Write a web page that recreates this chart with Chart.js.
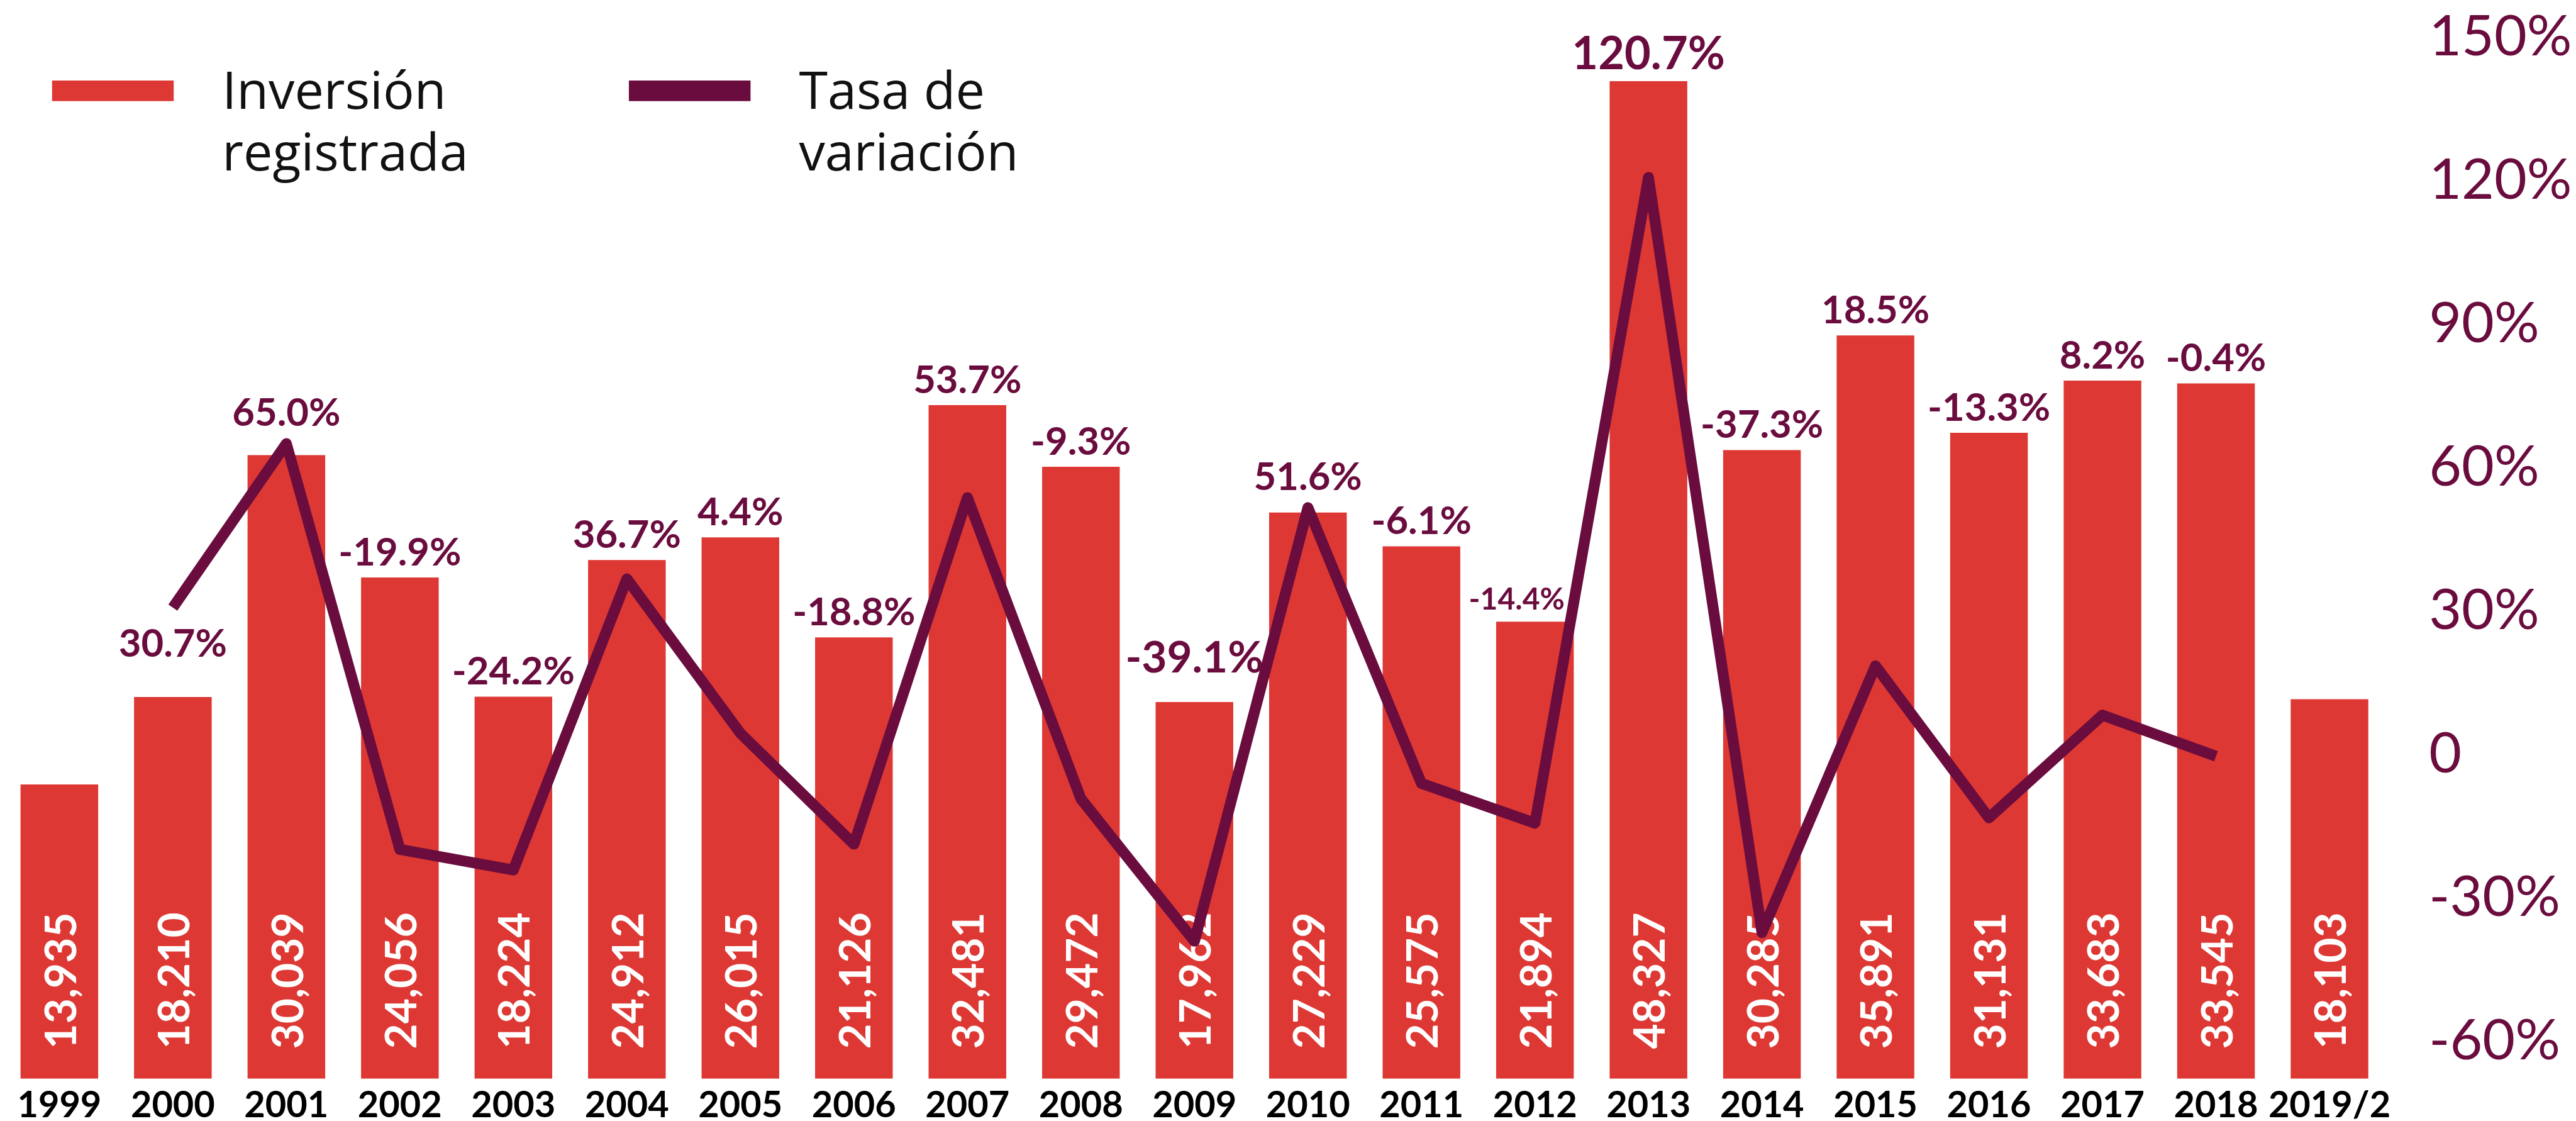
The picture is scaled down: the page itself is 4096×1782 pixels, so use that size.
<!DOCTYPE html>
<html>
<head>
<meta charset="utf-8">
<script src="https://cdn.jsdelivr.net/npm/chart.js@4.4.1/dist/chart.umd.min.js"></script>
<style>
  html, body { margin: 0; padding: 0; background: #fff; }
  #chart { display: block; }
</style>
</head>
<body>
<canvas id="chart" width="4096" height="1782"></canvas>
<script>
// values
const years = ["1999", "2000", "2001", "2002", "2003", "2004", "2005", "2006", "2007", "2008",
  "2009", "2010", "2011", "2012", "2013", "2014", "2015", "2016", "2017", "2018", "2019/2"];
const inversion = [13935, 18210, 30039, 24056, 18224, 24912, 26015, 21126, 32481, 29472,
  17962, 27229, 25575, 21894, 48327, 30285, 35891, 31131, 33683, 33545, 18103];
const tasa = [null, 30.7, 65.0, -19.9, -24.2, 36.7, 4.4, -18.8, 53.7, -9.3,
  -39.1, 51.6, -6.1, -14.4, 120.7, -37.3, 18.5, -13.3, 8.2, -0.4, null];
const tasaTicks = [-60, -30, 0, 30, 60, 90, 120, 150];

const RED = "#DD3833";
const PLUM = "#6A0C3E";
const S = 4096 / 4256; // reference is 4256 wide
const px = (v) => v * S;

// hand placed labels in the original: small nudges (reference px) and sizes
const labelNudge = { "2000": { dy: 110 }, "2009": { dy: -29 }, "2012": { dx: -30 } };
const labelSize = { "2013": 75, "2009": 72, "2012": 50 };

const barLabels = {
  id: "barLabels",
  afterDatasetDraw(chart, args) {
    if (args.index !== 0) return;
    const ctx = chart.ctx;
    ctx.save();
    ctx.fillStyle = "#fff";
    ctx.font = "bold " + px(72) + "px Lato";
    ctx.textAlign = "left";
    ctx.textBaseline = "middle";
    args.meta.data.forEach((bar, i) => {
      ctx.save();
      ctx.translate(bar.x + px(4), bar.base - px(49));
      ctx.rotate(-Math.PI / 2);
      ctx.fillText(inversion[i].toLocaleString("en-US"), 0, 0);
      ctx.restore();
    });
    ctx.restore();
  },
};

const rateLabels = {
  id: "rateLabels",
  afterDatasetsDraw(chart) {
    const ctx = chart.ctx;
    const bars = chart.getDatasetMeta(0).data;
    const pts = chart.getDatasetMeta(1).data;
    const lw = chart.data.datasets[1].borderWidth;
    ctx.save();
    ctx.fillStyle = PLUM;
    ctx.textAlign = "center";
    ctx.textBaseline = "alphabetic";
    tasa.forEach((v, i) => {
      if (v === null) return;
      const n = labelNudge[years[i]] || {};
      const size = labelSize[years[i]] || 64;
      const y = Math.min(bars[i].y, pts[i].y - lw / 2) - px(20) + px(n.dy || 0);
      ctx.font = "bold " + px(size) + "px Lato";
      ctx.fillText(v.toFixed(1) + "%", bars[i].x + px(n.dx || 0), y);
    });
    ctx.restore();
  },
};

const legendBlock = {
  id: "legendBlock",
  afterDraw(chart) {
    const ctx = chart.ctx;
    const spots = [
      { box: 86, text: 367 },
      { box: 1039, text: 1320 },
    ];
    ctx.save();
    ctx.font = px(86) + "px 'Open Sans'";
    ctx.textAlign = "left";
    ctx.textBaseline = "alphabetic";
    chart.data.datasets.forEach((ds, i) => {
      const s = spots[i];
      ctx.fillStyle = ds.legendColor;
      ctx.fillRect(px(s.box), px(133), px(201), px(34));
      const cut = ds.label.lastIndexOf(" ");
      ctx.fillStyle = "#111";
      ctx.fillText(ds.label.slice(0, cut), px(s.text), px(180));
      ctx.fillText(ds.label.slice(cut + 1), px(s.text), px(282));
    });
    ctx.restore();
  },
};

new Chart(document.getElementById("chart"), {
  type: "bar",
  data: {
    labels: years,
    datasets: [
      {
        label: "Inversión registrada",
        data: inversion,
        backgroundColor: RED,
        legendColor: RED,
        yAxisID: "yBar",
        base: -450,
        barPercentage: 0.684,
        categoryPercentage: 1,
        order: 1,
      },
      {
        type: "line",
        label: "Tasa de variación",
        data: tasa,
        borderColor: PLUM,
        legendColor: PLUM,
        borderWidth: px(18),
        borderJoinStyle: "round",
        borderCapStyle: "butt",
        pointRadius: 0,
        tension: 0,
        yAxisID: "yRate",
        clip: false,
        order: 0,
      },
    ],
  },
  options: {
    responsive: false,
    animation: false,
    devicePixelRatio: 1,
    layout: { padding: { left: px(4.3), top: px(61.7), right: 0, bottom: 0 } },
    plugins: { legend: { display: false }, tooltip: { enabled: false } },
    scales: {
      x: {
        grid: { display: false, drawTicks: false },
        border: { display: false },
        ticks: {
          color: "#000",
          font: { family: "Lato", weight: "bold", size: px(60) },
          padding: px(8),
          maxRotation: 0,
          autoSkip: false,
        },
        afterFit: (axis) => { axis.height = px(70); },
      },
      yBar: {
        position: "left",
        display: false,
        min: -450,
        max: 50466,
      },
      yRate: {
        position: "right",
        min: -67.85,
        max: 150,
        // the gap to the labels comes from an invisible tick mark, so it does not pad the chart area
        grid: { display: false, drawTicks: true, tickLength: px(70.5) },
        border: { display: false },
        ticks: {
          color: PLUM,
          font: { family: "Lato", size: px(93) },
          padding: 0,
          callback: (v) => (v === 0 ? "0" : v + "%"),
        },
        afterBuildTicks: (axis) => { axis.ticks = tasaTicks.map((v) => ({ value: v })); },
        afterFit: (axis) => { axis.width = 4096 - px(3942.5); },
      },
    },
  },
  plugins: [barLabels, rateLabels, legendBlock],
});
</script>
</body>
</html>
